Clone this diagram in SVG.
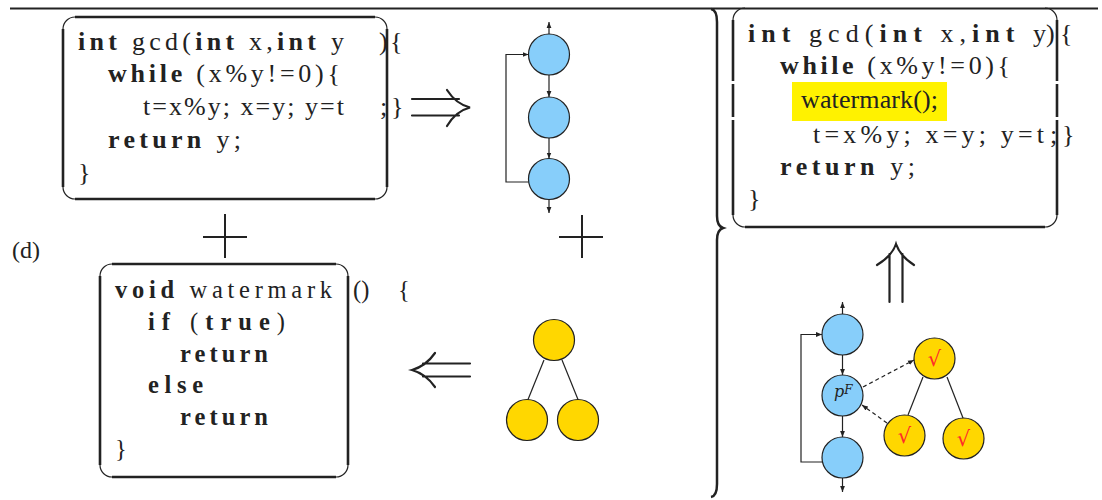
<svg xmlns="http://www.w3.org/2000/svg" width="1102" height="500" viewBox="0 0 1102 500">
<style>
.code{font-family:"Liberation Serif","Times New Roman",serif;font-size:26px;fill:#222}
.small{font-size:24.5px}
.kw{font-weight:bold}
.frame{fill:none;stroke:#222;stroke-width:1.2}
.side{stroke:#222;stroke-width:2.6;fill:none}
.blue{fill:#87CEFA;stroke:#222;stroke-width:1.2}
.gold{fill:#FFD700;stroke:#222;stroke-width:1.2}
.edge{fill:none;stroke:#222;stroke-width:1.2}
.dash{fill:none;stroke:#222;stroke-width:1.2;stroke-dasharray:4 3}
.big{fill:none;stroke:#222;stroke-width:2.2;stroke-linecap:round}
.chk{font-family:"DejaVu Serif","Liberation Serif",serif;font-size:21px;fill:#FF2A2A;text-anchor:middle}
</style>
<defs>
<marker id="ah" viewBox="0 0 10 10" refX="10" refY="5" markerWidth="6" markerHeight="6" markerUnits="userSpaceOnUse" orient="auto">
<path d="M0,1 L10,5 L0,9 z" fill="#222"/>
</marker>
</defs>

<!-- top rule -->
<line x1="10" y1="8.5" x2="1098" y2="8.5" stroke="#222" stroke-width="2"/>

<!-- (d) label -->
<text class="code" style="font-size:24px" x="12" y="258">(d)</text>

<!-- box 1: gcd -->
<g id="gcd-code">
<path class="frame" d="M63,29 A12,12 0 0 1 75,17 M375,17 A12,12 0 0 1 387,29 M387,187 A12,12 0 0 1 375,199 M75,199 A12,12 0 0 1 63,187"/>
<path class="side" d="M75,17 H375 M387,29 V187 M375,199 H75 M63,187 V29"/>
<text class="code" x="78" y="50" textLength="266" lengthAdjust="spacing"><tspan class="kw">int</tspan> gcd(<tspan class="kw">int</tspan> x,<tspan class="kw">int</tspan> y</text>
<text class="code" x="379" y="50">)</text>
<text class="code" x="390" y="50">{</text>
<text class="code" x="108" y="82" textLength="232" lengthAdjust="spacing"><tspan class="kw">while</tspan> (x%y!=0){</text>
<text class="code" x="143" y="115" textLength="201" lengthAdjust="spacing">t=x%y; x=y; y=t</text>
<text class="code" x="380" y="115">;</text>
<text class="code" x="391" y="115">}</text>
<text class="code" x="108" y="148" textLength="133" lengthAdjust="spacing"><tspan class="kw">return</tspan> y;</text>
<text class="code" x="78" y="181">}</text>
</g>

<!-- box 2: gcd with watermark -->
<g id="gcd-watermarked">
<path class="frame" d="M733,20 A12,12 0 0 1 745,8 M1045,8 A12,12 0 0 1 1057,20 M1057,215 A12,12 0 0 1 1045,227 M745,227 A12,12 0 0 1 733,215"/>
<path class="side" d="M1057,20 V81 M1057,84 V117 M1057,120 V215 M1045,227 H745 M733,215 V120 M733,117 V84 M733,81 V20"/>
<rect x="792" y="82" width="155" height="39" fill="#FFF200"/>
<text class="code" x="748" y="42" textLength="298" lengthAdjust="spacing"><tspan class="kw">int</tspan> gcd(<tspan class="kw">int</tspan> x,<tspan class="kw">int</tspan> y</text>
<text class="code" x="1046" y="42">)</text>
<text class="code" x="1060" y="42">{</text>
<text class="code" x="780" y="74" textLength="230" lengthAdjust="spacing"><tspan class="kw">while</tspan> (x%y!=0){</text>
<text class="code" x="801" y="108" textLength="137" lengthAdjust="spacing">watermark();</text>
<text class="code" x="813" y="143" textLength="231" lengthAdjust="spacing">t=x%y; x=y; y=t</text>
<text class="code" x="1050" y="143">;</text>
<text class="code" x="1062" y="143">}</text>
<text class="code" x="780" y="175" textLength="135" lengthAdjust="spacing"><tspan class="kw">return</tspan> y;</text>
<text class="code" x="748" y="207">}</text>
</g>

<!-- box 3: watermark function -->
<g id="watermark-code">
<path class="frame" d="M100,276 A12,12 0 0 1 112,264 M336,264 A12,12 0 0 1 348,276 M348,465 A12,12 0 0 1 336,477 M112,477 A12,12 0 0 1 100,465"/>
<path class="side" d="M112,264 H336 M348,276 V465 M336,477 H112 M100,465 V276"/>
<text class="code small" x="115" y="298" textLength="217" lengthAdjust="spacing"><tspan class="kw">void</tspan> watermark</text>
<text class="code small" x="353" y="298">()</text>
<text class="code small" x="398" y="298">{</text>
<text class="code small" x="148" y="330" textLength="137" lengthAdjust="spacing"><tspan class="kw">if</tspan> (<tspan class="kw">true</tspan>)</text>
<text class="code small kw" x="180" y="362" textLength="88" lengthAdjust="spacing">return</text>
<text class="code small kw" x="148" y="393" textLength="55" lengthAdjust="spacing">else</text>
<text class="code small kw" x="180" y="425" textLength="88" lengthAdjust="spacing">return</text>
<text class="code small" x="115" y="457">}</text>
</g>

<!-- CFG 1 nodes -->
<g id="cfg1-n1"><circle class="blue" cx="549" cy="54.5" r="20.5"/></g>
<g id="cfg1-n2"><circle class="blue" cx="549" cy="117.5" r="20.5"/></g>
<g id="cfg1-n3"><circle class="blue" cx="549" cy="179" r="20.5"/></g>

<!-- tree 1 nodes -->
<g id="tree1-root"><circle class="gold" cx="554" cy="340" r="20.5"/></g>
<g id="tree1-left"><circle class="gold" cx="527" cy="420" r="20.5"/></g>
<g id="tree1-right"><circle class="gold" cx="578" cy="420" r="20.5"/></g>

<!-- CFG 2 nodes -->
<g id="cfg2-n1"><circle class="blue" cx="842.5" cy="334.5" r="20.5"/></g>
<g id="cfg2-n2"><circle class="blue" cx="842.5" cy="395.5" r="20.5"/>
<text x="834" y="397" style="font-family:'DejaVu Serif','Liberation Serif',serif;font-style:italic;font-size:16px;fill:#222">p<tspan dy="-3" style="font-size:12px">F</tspan></text></g>
<g id="cfg2-n3"><circle class="blue" cx="842.5" cy="457.5" r="20.5"/></g>

<!-- tree 2 nodes -->
<g id="tree2-root"><circle class="gold" cx="934.5" cy="358.5" r="20.5"/><text class="chk" x="934.5" y="366">√</text></g>
<g id="tree2-left"><circle class="gold" cx="904.5" cy="435.5" r="20.5"/><text class="chk" x="904.5" y="443">√</text></g>
<g id="tree2-right"><circle class="gold" cx="963.5" cy="438.5" r="20.5"/><text class="chk" x="963.5" y="446">√</text></g>

<!-- connectors -->
<g id="connectors">
<line class="edge" x1="549" y1="34" x2="549" y2="22" marker-end="url(#ah)"/>
<line class="edge" x1="549" y1="75" x2="549" y2="97" marker-end="url(#ah)"/>
<line class="edge" x1="549" y1="138" x2="549" y2="158.5" marker-end="url(#ah)"/>
<line class="edge" x1="549" y1="199.5" x2="549" y2="213" marker-end="url(#ah)"/>
<path class="edge" d="M528.5,182 H506 V54.5 H528.5" marker-end="url(#ah)"/>

<line class="edge" x1="544" y1="360" x2="528" y2="399.5"/>
<line class="edge" x1="562" y1="360" x2="578" y2="399.5"/>

<line class="edge" x1="842.5" y1="314" x2="842.5" y2="302" marker-end="url(#ah)"/>
<line class="edge" x1="842.5" y1="355" x2="842.5" y2="375" marker-end="url(#ah)"/>
<line class="edge" x1="842.5" y1="416" x2="842.5" y2="437" marker-end="url(#ah)"/>
<line class="edge" x1="842.5" y1="478" x2="842.5" y2="492" marker-end="url(#ah)"/>
<path class="edge" d="M822,462 H801 V334.5 H822" marker-end="url(#ah)"/>

<line class="edge" x1="923" y1="377" x2="908" y2="415"/>
<line class="edge" x1="947" y1="377" x2="963" y2="418"/>
<line class="dash" x1="863" y1="387" x2="914" y2="360" marker-end="url(#ah)"/>
<line class="dash" x1="887" y1="423" x2="862" y2="405" marker-end="url(#ah)"/>

<!-- big double arrows -->
<path class="big" d="M412,99 H459 M412,115.5 H459 M447,90 Q456,104 470,107.5 Q456,111 447,126"/>
<path class="big" d="M470,363.5 H423 M470,376.5 H423 M435,353 Q426,366 412,370 Q426,374 435,387"/>
<path class="big" d="M889.5,302 V254 M902.5,302 V254 M877,265 Q892,256 896,244 Q900,256 914,265"/>
</g>

<!-- plus signs -->
<path d="M203,237 H247 M225,214 V258" stroke="#222" stroke-width="2" fill="none"/>
<path d="M559,237 H603 M582,215 V258" stroke="#222" stroke-width="2" fill="none"/>

<!-- large brace -->
<path d="M711,9 Q717,10 717,22 V216 Q717,226 723,228 Q717,230 717,240 V484 Q717,496 711,497" stroke="#222" stroke-width="2.5" fill="none"/>
</svg>
